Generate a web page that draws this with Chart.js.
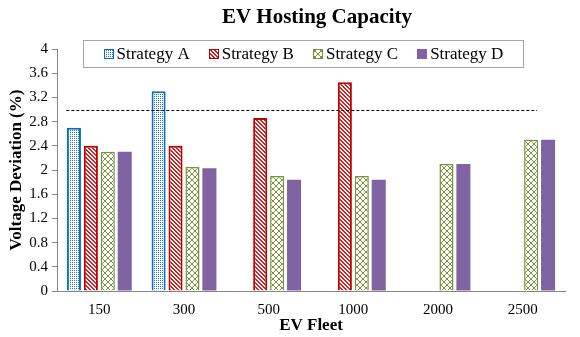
<!DOCTYPE html>
<html>
<head>
<meta charset="utf-8">
<script src="https://cdn.jsdelivr.net/npm/chart.js@4.4.1/dist/chart.umd.min.js"></script>
<style>
  html, body { margin: 0; padding: 0; background: #fff; }
  #wrap { width: 580px; height: 337px; position: relative; }
</style>
</head>
<body>
<div id="wrap"><canvas id="evChart"></canvas></div>
<script>
        // --- data ---
        const fleetSizes = ['150', '300', '500', '1000', '2000', '2500'];
        const strategyA = [2.7, 3.3, null, null, null, null];
        const strategyB = [2.4, 2.4, 2.86, 3.45, null, null];
        const strategyC = [2.3, 2.05, 1.9, 1.9, 2.1, 2.5];
        const strategyD = [2.3, 2.03, 1.84, 1.84, 2.1, 2.5];
        const yTickValues = [0, 0.4, 0.8, 1.2, 1.6, 2, 2.4, 2.8, 3.2, 3.6, 4];
        const yTickLabels = ['0', '0.4', '0.8', '1.2', '1.6', '2', '2.4', '2.8', '3.2', '3.6', '4'];
        const limitValue = 3;          // dashed limit line
        const limitFrom = -0.39;       // category index where line starts
        const limitTo = 5.17;          // category index where line ends

        const FONT = "'Liberation Serif', 'Times New Roman', serif";

        // small pattern tiles like the Excel fills
        function makePattern(size, color, pixels) {
            const c = document.createElement('canvas');
            c.width = size; c.height = size;
            const g = c.getContext('2d');
            g.fillStyle = '#fff';
            g.fillRect(0, 0, size, size);
            g.fillStyle = color;
            pixels.forEach(p => g.fillRect(p[0], p[1], 1, 1));
            return g.createPattern(c, 'repeat');
        }

        const dotFill = makePattern(2, '#2e75c8', [[0, 0]]);
        const stripeFill = makePattern(4, '#d02020', [[0,0],[1,1],[2,2],[3,3],[1,0],[2,1],[3,2],[0,3]]);
        const crossPx = [];
        for (let i = 0; i < 6; i++) { crossPx.push([i, i]); crossPx.push([i, 5 - i]); }
        const crossFill = makePattern(6, '#77933c', crossPx);

        // title + framed legend + dashed limit line
        const decorPlugin = {
            id: 'decor',
            afterDatasetsDraw(chart) {
                const ctx = chart.ctx;
                const x = chart.scales.x, y = chart.scales.y;
                const yy = Math.round(y.getPixelForValue(limitValue)) + 0.5;
                ctx.save();
                ctx.strokeStyle = '#000';
                ctx.lineWidth = 1;
                ctx.setLineDash([3, 2]);
                ctx.beginPath();
                ctx.moveTo(x.getPixelForValue(limitFrom), yy);
                ctx.lineTo(x.getPixelForValue(limitTo), yy);
                ctx.stroke();
                ctx.restore();
            },
            afterDraw(chart) {
                const ctx = chart.ctx;
                const area = chart.chartArea;
                ctx.save();
                // title
                ctx.fillStyle = '#000';
                ctx.font = 'bold 21px ' + FONT;
                ctx.textAlign = 'center';
                ctx.textBaseline = 'alphabetic';
                ctx.fillText('EV Hosting Capacity', (area.left + area.right) / 2 + 6, 23);

                // legend
                ctx.font = '17px ' + FONT;
                const sets = chart.data.datasets;
                const widths = sets.map(d => 10 + 3 + ctx.measureText(d.label).width);
                const gap = 19, pad = 20;
                const boxW = widths.reduce((a, b) => a + b, 0) + gap * (sets.length - 1) + pad * 2;
                const boxL = area.left + 26.5, boxT = 40.5, boxH = 27;
                ctx.fillStyle = '#fff';
                ctx.fillRect(boxL, boxT, boxW, boxH);
                ctx.strokeStyle = '#a6a6a6';
                ctx.lineWidth = 1;
                ctx.strokeRect(boxL, boxT, Math.round(boxW), boxH);
                let cx = boxL + pad;
                const cy = boxT + boxH / 2;
                ctx.textAlign = 'left';
                ctx.textBaseline = 'middle';
                sets.forEach((d, i) => {
                    ctx.fillStyle = d.backgroundColor;
                    ctx.fillRect(Math.round(cx), Math.round(cy - 5), 10, 10);
                    if (d.borderWidth) {
                        ctx.strokeStyle = d.borderColor;
                        ctx.strokeRect(Math.round(cx) + 0.5, Math.round(cy - 5) + 0.5, 9, 9);
                    }
                    ctx.fillStyle = '#000';
                    ctx.fillText(d.label, cx + 13, cy + 1);
                    cx += widths[i] + gap;
                });
                ctx.restore();
            }
        };

        const ctx = document.getElementById('evChart').getContext('2d');
        new Chart(ctx, {
            type: 'bar',
            data: {
                labels: fleetSizes,
                datasets: [
                    { label: 'Strategy A', data: strategyA, backgroundColor: dotFill, borderColor: '#0070c0', borderWidth: 2 },
                    { label: 'Strategy B', data: strategyB, backgroundColor: stripeFill, borderColor: '#c00000', borderWidth: 2 },
                    { label: 'Strategy C', data: strategyC, backgroundColor: crossFill, borderColor: '#77933c', borderWidth: 1.5 },
                    { label: 'Strategy D', data: strategyD, backgroundColor: '#8064a2', borderWidth: 0 }
                ]
            },
            plugins: [decorPlugin],
            options: {
                responsive: true,
                maintainAspectRatio: false,
                animation: false,
                layout: { padding: { top: 49, right: 15, left: 0, bottom: 0 } },
                datasets: { bar: { categoryPercentage: 0.8, barPercentage: 0.83 } },
                plugins: {
                    legend: { display: false },
                    title: { display: false },
                    tooltip: { enabled: false }
                },
                scales: {
                    x: {
                        grid: { display: false, drawTicks: false },
                        border: { color: '#868686', width: 1 },
                        ticks: { color: '#000', padding: 10, font: { size: 15, family: FONT } },
                        title: { display: true, text: 'EV Fleet', color: '#000', padding: { top: 0, bottom: 1 }, font: { size: 17, weight: 'bold', family: FONT } },
                        afterFit(scale) { scale.height = 46; }
                    },
                    y: {
                        min: 0,
                        max: 4,
                        grid: { drawOnChartArea: false, drawTicks: true, tickLength: 5, color: '#868686' },
                        border: { color: '#868686', width: 1 },
                        afterBuildTicks(scale) { scale.ticks = yTickValues.map(v => ({ value: v })); },
                        ticks: {
                            color: '#000',
                            padding: 4,
                            font: { size: 15, family: FONT },
                            callback: (v, i) => yTickLabels[i]
                        },
                        title: { display: true, text: 'Voltage Deviation (%)', color: '#000', padding: { top: 6, bottom: 0 }, font: { size: 17, weight: 'bold', family: FONT } },
                        afterFit(scale) { scale.width = 57; }
                    }
                }
            }
        });
</script>
</body>
</html>
